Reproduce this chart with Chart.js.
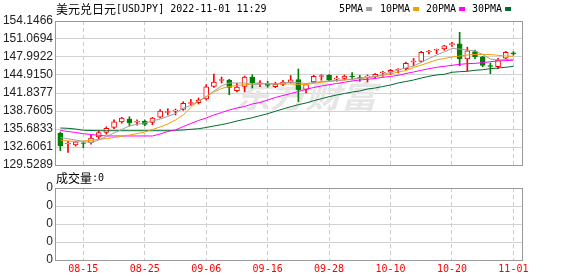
<!DOCTYPE html>
<html>
<head>
<meta charset="utf-8">
<script src="https://cdn.jsdelivr.net/npm/chart.js@4.4.0/dist/chart.umd.min.js"></script>
<style>
    html, body { margin: 0; padding: 0; background: #fff; }
    #wrap { position: relative; width: 578px; height: 276px; }
    #wrap canvas { position: absolute; left: 0; top: 0; }
</style>
</head>
<body>
<div id="wrap">
    <canvas id="kline" width="578" height="276"></canvas>
    <canvas id="vol" width="578" height="276"></canvas>
</div>
<script>
// 交易日
const dates = ['08-10','08-11','08-12','08-15','08-16','08-17','08-18','08-19','08-22','08-23',
    '08-24','08-25','08-26','08-29','08-30','08-31','09-01','09-02','09-05','09-06',
    '09-07','09-08','09-09','09-12','09-13','09-14','09-15','09-16','09-19','09-20',
    '09-21','09-22','09-23','09-26','09-27','09-28','09-29','09-30','10-03','10-04',
    '10-05','10-06','10-07','10-10','10-11','10-12','10-13','10-14','10-17','10-18',
    '10-19','10-20','10-21','10-24','10-25','10-26','10-27','10-28','10-31','11-01'];

// K线数据
const openP = [135.00,133.12,132.95,133.34,133.38,134.32,135.12,135.94,136.91,137.39,
    136.85,137.02,136.79,137.70,138.50,138.73,139.02,140.04,140.18,140.81,
    142.98,143.97,144.06,142.23,142.98,144.57,143.41,143.50,142.91,143.32,
    143.63,144.15,142.47,143.72,144.66,144.86,144.20,144.35,144.74,144.49,
    144.54,144.62,145.26,145.38,145.77,145.99,147.14,147.22,148.85,149.14,
    149.39,150.09,150.25,147.68,148.93,148.03,146.54,146.33,147.79,148.71];
const highP = [135.17,133.63,133.58,133.34,134.62,135.38,136.06,137.26,137.68,137.77,
    137.26,137.22,137.68,139.02,139.15,139.10,140.35,140.76,140.98,143.26,
    145.09,144.57,144.18,143.50,144.74,144.97,143.94,143.84,143.67,144.01,
    144.83,145.94,143.50,144.86,144.97,144.97,144.74,144.92,145.31,144.86,
    144.92,145.14,145.55,145.89,145.99,147.14,147.74,148.97,149.14,149.36,
    149.99,150.51,152.21,149.67,149.19,148.11,146.97,147.77,148.97,148.90];
const lowP = [131.97,131.67,132.78,132.49,133.07,134.01,134.79,135.72,136.67,136.20,
    136.32,136.25,136.42,137.56,138.08,138.08,138.88,139.73,139.96,140.64,
    142.81,143.55,141.55,142.01,142.01,142.69,142.91,142.81,142.74,143.09,
    143.55,140.38,141.84,143.55,144.01,143.84,143.84,144.06,144.06,143.84,
    143.72,144.40,144.69,144.97,145.26,145.77,146.50,147.14,148.50,148.56,
    149.14,149.82,146.50,145.63,147.70,146.33,145.14,145.99,147.70,148.28];
const closeP = [132.83,133.29,133.51,133.20,134.14,135.05,135.80,136.93,137.53,136.71,
    137.00,136.45,137.53,138.76,138.67,138.90,140.08,140.21,140.64,142.91,
    143.72,144.15,142.81,142.86,144.57,143.55,143.58,143.15,143.32,143.72,
    144.11,142.38,143.29,144.69,144.83,144.01,144.37,144.74,144.61,144.35,
    144.71,145.03,145.43,145.72,145.94,146.91,147.31,148.80,149.02,149.31,
    149.91,150.27,147.68,149.05,148.03,146.57,146.40,147.43,148.81,148.50];

// 均线
const ma5 = [134.23,134.01,133.80,133.55,133.34,133.80,134.40,135.00,135.60,136.20,
    136.49,136.71,137.05,137.39,137.82,138.33,139.27,139.70,140.47,141.15,
    142.18,143.03,143.55,143.55,143.55,143.29,143.38,143.38,143.38,143.55,
    143.67,143.60,143.46,143.63,143.80,143.89,143.97,144.11,144.23,144.35,
    144.49,144.62,145.00,145.34,145.77,146.11,146.45,147.05,147.74,148.33,
    148.85,149.45,149.36,149.19,149.02,148.42,147.65,147.48,147.56,147.60];
const ma10 = [133.80,133.63,133.58,133.63,133.75,133.89,134.06,134.23,134.44,134.66,
    134.91,135.17,135.60,136.03,136.54,137.22,138.08,139.36,140.47,141.24,
    142.01,142.61,142.95,143.12,143.26,143.38,143.46,143.46,143.38,143.38,
    143.38,143.32,143.29,143.50,143.67,143.80,143.94,144.06,144.18,144.32,
    144.45,144.66,144.83,145.09,145.43,145.68,146.20,146.62,147.05,147.48,
    147.74,147.99,148.16,148.33,148.42,148.45,148.42,148.28,148.16,148.11];
const ma20 = [135.43,135.26,135.08,134.88,134.74,134.61,134.49,134.49,134.49,134.49,
    134.49,134.49,134.49,134.83,135.26,135.51,136.11,136.62,137.14,137.56,
    138.08,138.50,138.93,139.27,139.53,139.96,140.21,140.64,141.07,141.41,
    141.75,142.09,142.47,142.78,143.03,143.26,143.46,143.67,143.89,144.06,
    144.18,144.32,144.52,144.66,144.86,145.17,145.43,145.72,145.99,146.23,
    146.40,146.57,146.74,146.85,146.91,147.02,147.19,147.31,147.39,147.43];
const ma30 = [135.85,135.80,135.68,135.46,135.43,135.39,135.39,135.39,135.39,135.39,
    135.39,135.39,135.39,135.39,135.39,135.46,135.51,135.63,135.73,135.94,
    136.20,136.42,136.71,137.05,137.34,137.61,137.96,138.30,138.71,139.10,
    139.50,139.84,140.13,140.52,140.86,141.21,141.50,141.75,142.01,142.18,
    142.52,142.69,142.95,143.21,143.55,143.80,144.06,144.40,144.69,144.92,
    145.03,145.38,145.48,145.55,145.72,145.82,145.99,146.11,146.23,146.40];

// 刻度
const yTicks = ['129.5289','132.6061','135.6833','138.7605','141.8377','144.9150','147.9922','151.0694','154.1466'];
const volTicks = ['0','0','0','0','0'];
const xTickDates = ['08-15','08-25','09-06','09-16','09-28','10-10','10-20','11-01'];
const maNames = ['5PMA','10PMA','20PMA','30PMA'];
const maColors = ['#a0a0a0','#f0a000','#ff00ff','#006b2e'];

const UP = '#ff0000', DOWN = '#008000';
const isUp = i => closeP[i] >= openP[i];
const candleColor = dates.map((d, i) => isUp(i) ? UP : DOWN);

const MONO = '"DejaVu Sans Mono", monospace';
const CJK = '"Noto Sans CJK SC", sans-serif';

// x轴（两个图共用）
function makeX(showLabels) {
    return {
        type: 'linear',
        min: -0.69,
        max: 60.12,
        offset: false,
        afterBuildTicks: s => { s.ticks = xTickDates.map(d => ({ value: dates.indexOf(d) })); },
        ticks: {
            display: showLabels,
            autoSkip: false,
            maxRotation: 0,
            padding: 3,
            color: '#ff0000',
            font: { family: MONO, size: 10 },
            callback: v => dates[v]
        },
        grid: { color: '#cccccc', drawTicks: false, offset: false },
        border: { display: false, dash: [4, 3] },
        afterFit: s => { s.height = showLabels ? 16 : 0; }
    };
}

function makeY(min, max, labels, values) {
    return {
        type: 'linear',
        min: min,
        max: max,
        stacked: false,
        afterBuildTicks: s => { s.ticks = values.map(v => ({ value: v })); },
        ticks: {
            autoSkip: false,
            padding: 2,
            color: '#222',
            font: { family: '"Liberation Sans", Arial, sans-serif', size: 12 },
            callback: (v, i) => labels[i]
        },
        grid: { color: '#d2d2d2', drawTicks: false },
        border: { display: false },
        afterFit: s => { s.width = 55; }
    };
}

// 外框
const boxPlugin = {
    id: 'box',
    afterDraw(chart) {
        const a = chart.chartArea, ctx = chart.ctx;
        ctx.save();
        ctx.strokeStyle = '#999';
        ctx.lineWidth = 1;
        ctx.strokeRect(Math.round(a.left) + 0.5, Math.round(a.top) + 0.5,
            Math.round(a.right - a.left), Math.round(a.bottom - a.top));
        ctx.restore();
    }
};

// 水印
const watermark = {
    id: 'watermark',
    beforeDatasetsDraw(chart) {
        const ctx = chart.ctx;
        ctx.save();
        ctx.fillStyle = '#e6e6e6';
        ctx.font = 'italic bold 31px ' + CJK;
        ctx.textAlign = 'left';
        ctx.textBaseline = 'middle';
        ctx.translate(234, 96);
        ctx.scale(1.15, 1);
        ctx.fillText('东方财富', 0, 0);
        ctx.restore();
    }
};

// 标题和图例
const header = {
    id: 'header',
    afterDraw(chart) {
        const ctx = chart.ctx;
        ctx.save();
        ctx.textAlign = 'left';
        ctx.textBaseline = 'middle';
        ctx.fillStyle = '#000';
        ctx.font = '12px ' + CJK;
        ctx.fillText('美元兑日元', 56, 9);
        ctx.font = '10px ' + MONO;
        ctx.fillText('[USDJPY] 2022-11-01 11:29', 116, 9);

        const xs = [339, 380, 426, 472];
        maNames.forEach((n, i) => {
            ctx.fillStyle = '#000';
            ctx.fillText(n, xs[i], 9);
            const w = ctx.measureText(n).width;
            ctx.fillStyle = maColors[i];
            ctx.fillRect(xs[i] + w + 3, 7, 6, 4);
        });
        ctx.restore();
    }
};

const volHeader = {
    id: 'volHeader',
    afterDraw(chart) {
        const ctx = chart.ctx;
        ctx.save();
        ctx.textAlign = 'left';
        ctx.textBaseline = 'middle';
        ctx.fillStyle = '#000';
        ctx.font = '12px ' + CJK;
        ctx.fillText('成交量', 56, 178);
        ctx.font = '10px ' + MONO;
        ctx.fillText(':0', 92, 178);
        ctx.restore();
    }
};

const maSets = [ma5, ma10, ma20, ma30].map((arr, k) => ({
    type: 'line',
    label: maNames[k],
    data: arr.map((v, i) => ({ x: i, y: v })),
    borderColor: maColors[k],
    borderWidth: 1,
    pointRadius: 0,
    tension: 0,
    fill: false
}));

new Chart(document.getElementById('kline'), {
    type: 'bar',
    data: {
        datasets: [
            ...maSets,
            {
                // 实体
                type: 'bar',
                stack: 'k',
                data: dates.map((d, i) => ({ x: i, y: [openP[i], closeP[i]] })),
                backgroundColor: dates.map((d, i) => isUp(i) ? '#ffffff' : DOWN),
                borderColor: candleColor,
                borderWidth: 1,
                borderSkipped: false,
                barThickness: 5
            },
            {
                // 影线
                type: 'bar',
                stack: 'k',
                data: dates.map((d, i) => ({ x: i, y: [lowP[i], highP[i]] })),
                backgroundColor: candleColor,
                borderWidth: 0,
                barThickness: 1
            }
        ]
    },
    options: {
        responsive: false,
        animation: false,
        events: [],
        layout: { padding: { top: 21, right: 56, bottom: 111, left: 0 } },
        plugins: { legend: { display: false }, tooltip: { enabled: false } },
        scales: {
            x: makeX(false),
            y: makeY(+yTicks[0], +yTicks[yTicks.length - 1], yTicks, yTicks.map(Number))
        }
    },
    plugins: [watermark, boxPlugin, header]
});

new Chart(document.getElementById('vol'), {
    type: 'bar',
    data: { datasets: [] },
    options: {
        responsive: false,
        animation: false,
        events: [],
        layout: { padding: { top: 188, right: 56, bottom: 0, left: 0 } },
        plugins: { legend: { display: false }, tooltip: { enabled: false } },
        scales: {
            x: makeX(true),
            y: makeY(0, volTicks.length - 1, volTicks, volTicks.map((t, i) => i))
        }
    },
    plugins: [boxPlugin, volHeader]
});
</script>
</body>
</html>
